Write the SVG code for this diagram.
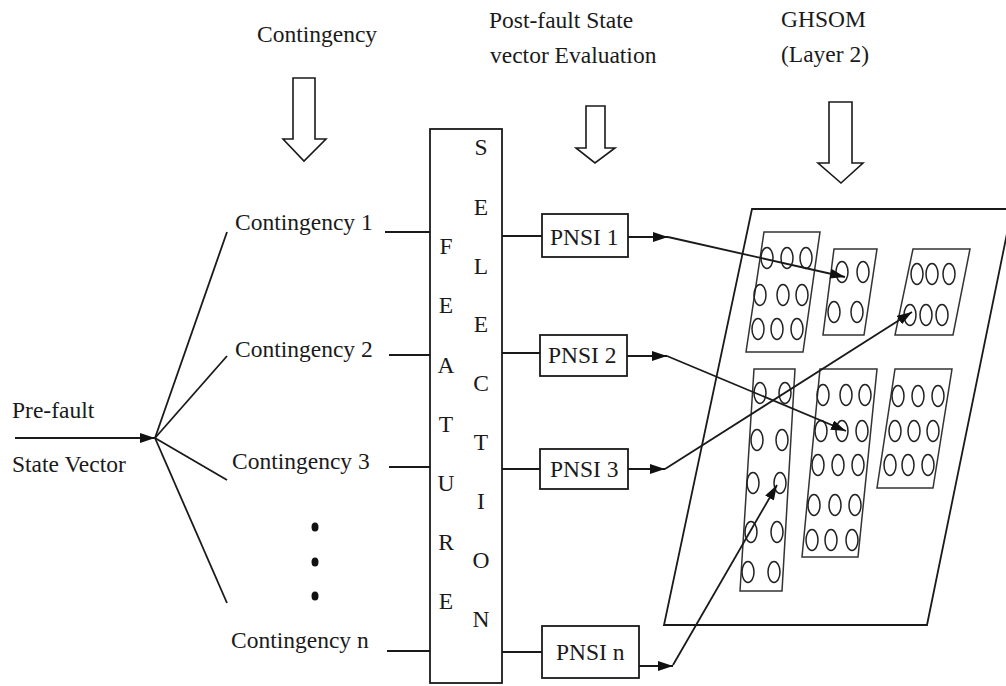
<svg xmlns="http://www.w3.org/2000/svg" width="1006" height="686" viewBox="0 0 1006 686">
<style>
text{font-family:"Liberation Serif","Times New Roman",serif;font-size:23.5px;fill:#1a1a1a}
.ln{stroke:#1a1a1a;stroke-width:1.8;fill:none}
.box{stroke:#1a1a1a;stroke-width:1.8;fill:#fff}
.hol{stroke:#1a1a1a;stroke-width:1.6;fill:#fff}
.grid{stroke:#333;stroke-width:1.5;fill:none}
.c{stroke:#222;stroke-width:1.5;fill:none}
.mid{text-anchor:middle}
</style>
<defs>
<marker id="ah" markerWidth="15" markerHeight="10" refX="15" refY="5" orient="auto" markerUnits="userSpaceOnUse"><path d="M0,0 L15,5 L0,10 z" fill="#111"/></marker>
</defs>
<rect width="1006" height="686" fill="#fff"/>

<g id="headers">
<text x="257" y="42">Contingency</text>
<polygon class="hol" points="293,78 315,78 315,139 326,139 304,161 283,139 293,139"/>
<text x="489" y="28">Post-fault State</text>
<text x="490" y="63">vector Evaluation</text>
<polygon class="hol" points="586,106 605,106 605,148 615,148 595,163 576,148 586,148"/>
<text x="781" y="27">GHSOM</text>
<text x="781" y="62">(Layer 2)</text>
<polygon class="hol" points="829,102 852,102 852,163 863,163 841,183 818,163 829,163"/>
</g>

<g id="prefault">
<text x="12" y="418">Pre-fault</text>
<text x="12" y="472">State Vector</text>
</g>

<g id="contingencies">
<text x="235" y="230">Contingency 1</text>
<text x="235" y="357">Contingency 2</text>
<text x="232" y="469">Contingency 3</text>
<text x="231" y="648">Contingency n</text>
<ellipse cx="315" cy="527" rx="3.5" ry="4.5" fill="#111"/>
<ellipse cx="315" cy="562" rx="3.5" ry="4.5" fill="#111"/>
<ellipse cx="315" cy="596" rx="3.5" ry="4.5" fill="#111"/>
</g>

<g id="feature-selection">
<rect class="box" x="430" y="129" width="72" height="554"/>
<text class="mid" x="446" y="254">F</text>
<text class="mid" x="446" y="313">E</text>
<text class="mid" x="446" y="373">A</text>
<text class="mid" x="446" y="432">T</text>
<text class="mid" x="446" y="491">U</text>
<text class="mid" x="446" y="550">R</text>
<text class="mid" x="446" y="609">E</text>
<text class="mid" x="481" y="155">S</text>
<text class="mid" x="481" y="215">E</text>
<text class="mid" x="481" y="274">L</text>
<text class="mid" x="481" y="332">E</text>
<text class="mid" x="481" y="391">C</text>
<text class="mid" x="481" y="450">T</text>
<text class="mid" x="481" y="509">I</text>
<text class="mid" x="481" y="568">O</text>
<text class="mid" x="481" y="627">N</text>
</g>

<g id="pnsi1"><rect class="box" x="542" y="214" width="86" height="43"/><text x="550" y="245">PNSI 1</text></g>
<g id="pnsi2"><rect class="box" x="540" y="335" width="87" height="41"/><text x="548" y="363">PNSI 2</text></g>
<g id="pnsi3"><rect class="box" x="540" y="449" width="88" height="40"/><text x="550" y="477">PNSI 3</text></g>
<g id="pnsin"><rect class="box" x="542" y="626" width="97" height="52"/><text x="556" y="660">PNSI n</text></g>

<g id="ghsom">
<polygon class="ln" points="752,209 1012,209 927,625 664,625"/>
<g id="mapA">
<polygon class="grid" points="764,232 820,232 803,352 746,352"/>
<ellipse class="c" cx="767" cy="258" rx="6" ry="10.5"/><ellipse class="c" cx="787" cy="258" rx="6" ry="10.5"/><ellipse class="c" cx="806" cy="258" rx="6" ry="10.5"/>
<ellipse class="c" cx="760" cy="295" rx="6" ry="10.5"/><ellipse class="c" cx="783" cy="295" rx="6" ry="10.5"/><ellipse class="c" cx="802" cy="295" rx="6" ry="10.5"/>
<ellipse class="c" cx="758" cy="329" rx="6" ry="10.5"/><ellipse class="c" cx="777" cy="329" rx="6" ry="10.5"/><ellipse class="c" cx="797" cy="329" rx="6" ry="10.5"/>
</g>
<g id="mapB">
<polygon class="grid" points="834,249 877,249 864,335 823,335"/>
<ellipse class="c" cx="842" cy="272" rx="6" ry="10.5"/><ellipse class="c" cx="863" cy="272" rx="6" ry="10.5"/>
<ellipse class="c" cx="834" cy="312" rx="6" ry="10.5"/><ellipse class="c" cx="857" cy="312" rx="6" ry="10.5"/>
</g>
<g id="mapC">
<polygon class="grid" points="913,249 970,249 953,335 895,335"/>
<ellipse class="c" cx="917" cy="274" rx="6" ry="10.5"/><ellipse class="c" cx="932" cy="274" rx="6" ry="10.5"/><ellipse class="c" cx="949" cy="274" rx="6" ry="10.5"/>
<ellipse class="c" cx="910" cy="315" rx="6" ry="10.5"/><ellipse class="c" cx="926" cy="315" rx="6" ry="10.5"/><ellipse class="c" cx="942" cy="315" rx="6" ry="10.5"/>
</g>
<g id="mapD">
<polygon class="grid" points="754,369 795,369 782,591 740,591"/>
<ellipse class="c" cx="760" cy="393" rx="6" ry="10.5"/><ellipse class="c" cx="785" cy="393" rx="6" ry="10.5"/>
<ellipse class="c" cx="757" cy="440" rx="6" ry="10.5"/><ellipse class="c" cx="782" cy="440" rx="6" ry="10.5"/>
<ellipse class="c" cx="753" cy="483" rx="6" ry="10.5"/><ellipse class="c" cx="780" cy="483" rx="6" ry="10.5"/>
<ellipse class="c" cx="751" cy="532" rx="6" ry="10.5"/><ellipse class="c" cx="777" cy="532" rx="6" ry="10.5"/>
<ellipse class="c" cx="748" cy="572" rx="6" ry="10.5"/><ellipse class="c" cx="774" cy="572" rx="6" ry="10.5"/>
</g>
<g id="mapE">
<polygon class="grid" points="820,369 877,369 858,557 802,557"/>
<ellipse class="c" cx="823" cy="395" rx="6" ry="10.5"/><ellipse class="c" cx="846" cy="395" rx="6" ry="10.5"/><ellipse class="c" cx="865" cy="395" rx="6" ry="10.5"/>
<ellipse class="c" cx="821" cy="431" rx="6" ry="10.5"/><ellipse class="c" cx="842" cy="431" rx="6" ry="10.5"/><ellipse class="c" cx="862" cy="431" rx="6" ry="10.5"/>
<ellipse class="c" cx="818" cy="465" rx="6" ry="10.5"/><ellipse class="c" cx="838" cy="465" rx="6" ry="10.5"/><ellipse class="c" cx="858" cy="465" rx="6" ry="10.5"/>
<ellipse class="c" cx="814" cy="505" rx="6" ry="10.5"/><ellipse class="c" cx="835" cy="505" rx="6" ry="10.5"/><ellipse class="c" cx="855" cy="505" rx="6" ry="10.5"/>
<ellipse class="c" cx="812" cy="540" rx="6" ry="10.5"/><ellipse class="c" cx="831" cy="540" rx="6" ry="10.5"/><ellipse class="c" cx="852" cy="540" rx="6" ry="10.5"/>
</g>
<g id="mapF">
<polygon class="grid" points="895,369 952,369 933,488 877,488"/>
<ellipse class="c" cx="898" cy="396" rx="6" ry="10.5"/><ellipse class="c" cx="918" cy="396" rx="6" ry="10.5"/><ellipse class="c" cx="938" cy="396" rx="6" ry="10.5"/>
<ellipse class="c" cx="895" cy="431" rx="6" ry="10.5"/><ellipse class="c" cx="914" cy="431" rx="6" ry="10.5"/><ellipse class="c" cx="933" cy="431" rx="6" ry="10.5"/>
<ellipse class="c" cx="890" cy="465" rx="6" ry="10.5"/><ellipse class="c" cx="908" cy="465" rx="6" ry="10.5"/><ellipse class="c" cx="928" cy="465" rx="6" ry="10.5"/>
</g>
</g>

<g id="connectors">
<line class="ln" x1="15" y1="438" x2="155" y2="438" marker-end="url(#ah)"/>
<line class="ln" x1="155" y1="438" x2="227" y2="232"/>
<line class="ln" x1="155" y1="438" x2="227" y2="356"/>
<line class="ln" x1="155" y1="438" x2="227" y2="480"/>
<line class="ln" x1="155" y1="438" x2="227" y2="603"/>
<line class="ln" x1="385" y1="232" x2="430" y2="232"/>
<line class="ln" x1="389" y1="355" x2="430" y2="355"/>
<line class="ln" x1="389" y1="467" x2="430" y2="467"/>
<line class="ln" x1="387" y1="651" x2="430" y2="651"/>
<line class="ln" x1="502" y1="236" x2="542" y2="236"/>
<line class="ln" x1="502" y1="353" x2="540" y2="353"/>
<line class="ln" x1="502" y1="469" x2="540" y2="469"/>
<line class="ln" x1="502" y1="652" x2="542" y2="652"/>
<line class="ln" x1="628" y1="237" x2="668" y2="237" marker-end="url(#ah)"/>
<line class="ln" x1="627" y1="356" x2="667" y2="356" marker-end="url(#ah)"/>
<line class="ln" x1="628" y1="469" x2="665" y2="469" marker-end="url(#ah)"/>
<line class="ln" x1="639" y1="666" x2="673" y2="666" marker-end="url(#ah)"/>
<line class="ln" x1="668" y1="237" x2="845" y2="277" marker-end="url(#ah)"/>
<line class="ln" x1="667" y1="356" x2="846" y2="431" marker-end="url(#ah)"/>
<line class="ln" x1="665" y1="469" x2="912" y2="312" marker-end="url(#ah)"/>
<line class="ln" x1="673" y1="665" x2="777" y2="485" marker-end="url(#ah)"/>
</g>
</svg>
